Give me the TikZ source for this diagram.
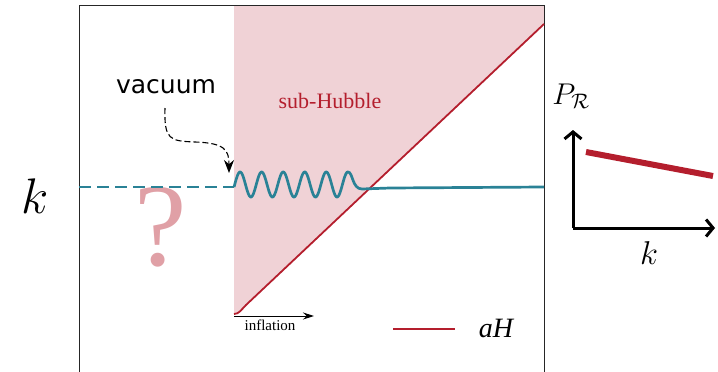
\documentclass[tikz,border=0pt]{standalone}
\usepackage{fix-cm}
\usepackage{fontspec}
\setmainfont{Liberation Serif}
\newfontfamily\vacfont{DejaVu Sans}
\usetikzlibrary{arrows.meta, positioning}

\definecolor{modeteal}{RGB}{42,130,150}
\definecolor{hubblered}{RGB}{180,30,45}
\definecolor{hubblepink}{RGB}{240,210,214}
\definecolor{qpink}{RGB}{224,160,166}

\tikzset{
  mode/.style={modeteal, line width=2.7pt},
  hubble/.style={hubblered, line width=1.8pt},
  axis/.style={line width=3pt, -{Straight Barb[length=7pt, width=17pt]}},
}

\begin{document}
\begin{tikzpicture}[x=1pt, y=-1pt, line width=1pt]
        \useasboundingbox (0,0) rectangle (718,372);

        % sub-Hubble region
        \fill[hubblepink] (234,5) -- (544,5) -- (544,24) -- (246,305)
            .. controls (241,310) and (239,314) .. (234,314) -- cycle;
        \node[hubblered, font=\fontsize{22}{22}\selectfont] (sub) at (330,101) {sub-Hubble};

        % question mark
        \node[qpink, font=\fontsize{118}{118}\selectfont] (quest) at (161,227) {?};

        % frame
        \draw[black!85] (79,372) -- (79,5) -- (544,5) -- (544,372);

        % aH line
        \draw[hubble] (234,314) .. controls (239,314) and (241,310) .. (246,305) -- (544,24);

        % mode
        \draw[mode, dash pattern=on 12pt off 6pt] (79,187) -- (234,187);
        \draw[mode] plot[domain=234:348, samples=240, smooth] (\x, {184.5-12.5*sin(16.71*(\x-234)-12)})
            .. controls (353,172) and (352,189) .. (362,189) -- (390,188) -- (544,187);

        % vacuum
        \node[font=\vacfont\fontsize{25}{25}\selectfont] (vac) at (166,87) {vacuum};
        \coordinate (vactip) at (229,173);
        \draw[line width=1.1pt, dash pattern=on 6pt off 3pt, -{Stealth[length=13pt, width=10pt]}] (vac.south) ++(-1,10)
            .. controls (164,140) and (170,141) .. (195,142)
            .. controls (225,143) and (229,150) .. (vactip);

        % inflation arrow
        \coordinate (inf0) at (234,316);
        \coordinate (inf1) at (314,316);
        \draw[-{Stealth[length=11pt, width=7pt]}] (inf0) -- (inf1);
        \node[font=\fontsize{15}{15}\selectfont] (infl) at (270,325) {inflation};

        % legend
        \coordinate (leg0) at (393,329);
        \coordinate (leg1) at (455,329);
        \draw[hubble, line width=2pt] (leg0) -- (leg1);
        \node[font=\fontsize{28}{28}\selectfont\itshape] (aH) at (496,328) {aH};

        % wavenumber
        \node[font=\fontsize{50}{50}\selectfont] (kleft) at (35,196) {$k$};

        % power spectrum inset
        \coordinate (o) at (573,228);
        \coordinate (ytop) at (573,130);
        \coordinate (xend) at (715,228);
        \draw[axis] (o) -- (ytop);
        \draw[axis] (o) -- (xend);
        \coordinate (p0) at (586,152);
        \coordinate (p1) at (713,176);
        \draw[hubblered, line width=6pt] (p0) -- (p1);
        \node[font=\fontsize{30}{30}\selectfont] (PR) at (571,96) {$P_{\mathcal{R}}$};
        \node[font=\fontsize{33}{33}\selectfont] (kright) at (649,253) {$k$};
    \end{tikzpicture}
\end{document}
